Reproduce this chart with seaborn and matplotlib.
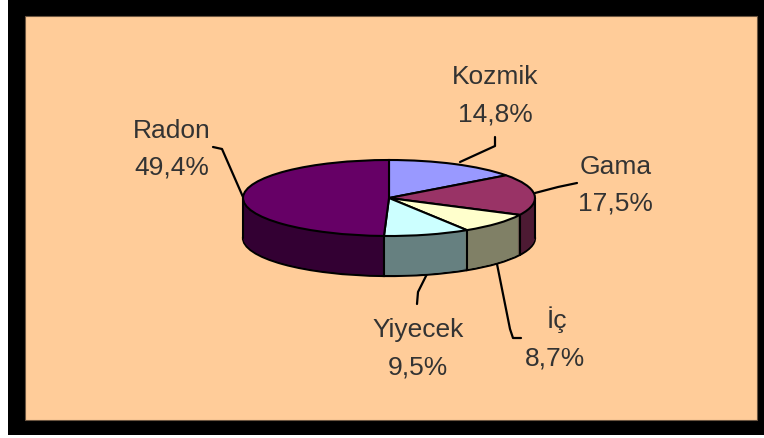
#!/usr/bin/env python3
import numpy as np
import matplotlib
matplotlib.use('Agg')
import matplotlib.pyplot as plt
from matplotlib.patches import Rectangle
import seaborn as sns

# Data
categories = ['Kozmik', 'Gama', 'İç', 'Yiyecek', 'Radon']
values = [14.8, 17.5, 8.7, 9.5, 49.4]
top_colors = ['#9999FF', '#993366', '#FFFFCC', '#CCFFFF', '#660066']
side_colors = ['#4D4D80', '#4D1A33', '#808066', '#668080', '#330033']

# Label centres and leader lines, in image pixels
name_pos = [(495, 77), (616, 167), (557, 320), (418, 330), (172, 131)]
pct_pos = [(495, 115), (615, 204), (555, 359), (418, 368), (172, 168)]
leaders = [
    [(460, 163), (495, 147), (495, 138)],
    [(535, 194), (558, 188), (577, 184)],
    [(497, 265), (510, 330), (513, 339), (521, 339)],
    [(427, 275), (418, 293), (417, 305)],
    [(213, 148), (222, 150), (243, 198)],
]

W, H = 764, 439
depth = 40 / 38  # wall height in units of the vertical radius

sns.set_theme(style='white')
plt.rcParams['font.family'] = ['Liberation Sans', 'DejaVu Sans']

fig = plt.figure(figsize=(W / 100, H / 100), dpi=100, facecolor='white')

# Background frame, labels and leaders
bg = fig.add_axes([0, 0, 1, 1])
bg.set_xlim(0, W)
bg.set_ylim(H, 0)
bg.axis('off')
bg.add_patch(Rectangle((8, 0), W - 8, 436, color='black', lw=0))
bg.add_patch(Rectangle((25, 17), 732, 404, facecolor='#FFCC99',
                       edgecolor='#6b5540', lw=0.8))

for name, val, np_, pp, line in zip(categories, values, name_pos, pct_pos, leaders):
    bg.text(np_[0], np_[1], name, ha='center', va='center', fontsize=19, color='#333333')
    bg.text(pp[0], pp[1], f'{val:.1f}%'.replace('.', ','), ha='center', va='center',
            fontsize=19, color='#333333')
    xs, ys = zip(*line)
    bg.plot(xs, ys, color='black', lw=1.6)

# Squashed pie: axes spans the ellipse plus the wall below it
ax = fig.add_axes([243 / W, 1 - 277 / H, 292 / W, 116 / H])
for off in np.linspace(-depth, 0, 41)[:-1]:
    edge = 'black' if off == -depth else 'none'
    ax.pie(values, colors=side_colors, startangle=90, counterclock=False,
           center=(0, off), wedgeprops={'edgecolor': edge, 'linewidth': 1.6})
ax.pie(values, colors=top_colors, startangle=90, counterclock=False,
       wedgeprops={'edgecolor': 'black', 'linewidth': 1.5})
ax.set_aspect('auto')
ax.set_xlim(-1, 1)
ax.set_ylim(-1 - depth, 1)

# Vertical edges of the wall
theta = np.deg2rad(np.cumsum(values) / np.sum(values) * 360)
for t in theta:
    if np.cos(t) < 0:
        ax.plot([np.sin(t)] * 2, [np.cos(t), np.cos(t) - depth], color='black', lw=1.5)
ax.plot([-1, -1], [0, -depth], color='black', lw=1.5, clip_on=False)
ax.plot([1, 1], [0, -depth], color='black', lw=1.5, clip_on=False)

fig.savefig('out.png', dpi=100)
